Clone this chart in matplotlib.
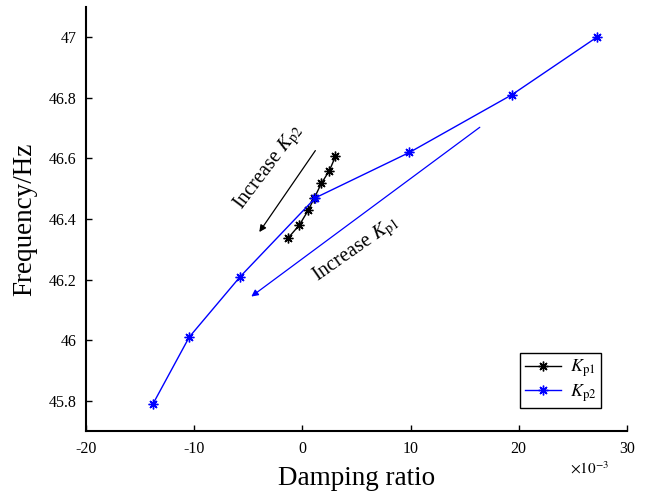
import matplotlib
matplotlib.use("Agg")
import matplotlib.pyplot as plt
import numpy as np

plt.rcParams["font.family"] = ["Liberation Serif", "DejaVu Serif"]
plt.rcParams["mathtext.fontset"] = "stix"
plt.rcParams["axes.unicode_minus"] = False

# damping ratio (x1e-3) and frequency (Hz)
kp1_damp = [-1.3, -0.28, 0.56, 1.11, 1.76, 2.5, 3.06]
kp1_freq = [46.338, 46.38, 46.43, 46.47, 46.518, 46.56, 46.607]
kp2_damp = [-13.8, -10.46, -5.74, 1.2, 9.9, 19.35, 27.2]
kp2_freq = [45.79, 46.01, 46.21, 46.47, 46.62, 46.81, 47.0]

xticks = [-20, -10, 0, 10, 20, 30]
yticks = [45.8, 46.0, 46.2, 46.4, 46.6, 46.8, 47.0]

STAR = (8, 2, 0)

fig = plt.figure(figsize=(6.49, 4.97), dpi=100)
ax = fig.add_axes([0.1325, 0.1328, 0.8335, 0.853])

ax.plot(kp1_damp, kp1_freq, color="black", lw=1, marker=STAR, ms=7,
        mew=1, label=r"$K_{\mathrm{p1}}$")
ax.plot(kp2_damp, kp2_freq, color="blue", lw=1, marker=STAR, ms=7,
        mew=1, label=r"$K_{\mathrm{p2}}$")

# arrows and their labels
ax.annotate("", xy=(-3.98, 46.357), xytext=(1.2, 46.626),
            arrowprops=dict(arrowstyle="-|>", color="black", lw=0.9,
                            mutation_scale=10, shrinkA=0, shrinkB=0))
ax.annotate("", xy=(-4.72, 46.144), xytext=(16.4, 46.703),
            arrowprops=dict(arrowstyle="-|>", color="blue", lw=0.9,
                            mutation_scale=10, shrinkA=0, shrinkB=0))
ax.text(-3.1, 46.57, r"Increase $K_{\mathrm{p2}}$", rotation=53,
        ha="center", va="center", fontsize=14.5)
ax.text(5.0, 46.3, r"Increase $K_{\mathrm{p1}}$", rotation=35,
        ha="center", va="center", fontsize=14.5)

ax.set_xlim(-20, 30)
ax.set_ylim(45.7, 47.1)
ax.set_xticks(xticks, [f"{t:g}" for t in xticks])
ax.set_yticks(yticks, [f"{t:g}" for t in yticks])
ax.tick_params(direction="in", length=4, width=1, labelsize=11.5, pad=7)
for sp in ("top", "right"):
    ax.spines[sp].set_visible(False)
for sp in ("left", "bottom"):
    ax.spines[sp].set_linewidth(1.5)

ax.set_xlabel("Damping ratio", fontsize=19.5, labelpad=7)
ax.set_ylabel("Frequency/Hz", fontsize=19.5, labelpad=8)
fig.text(0.909, 0.058, r"$\times\mathrm{10}^{\mathrm{-3}}$", fontsize=11,
         ha="center", va="center")

leg = ax.legend(loc="lower right", bbox_to_anchor=(0.952, 0.054), fontsize=13,
                fancybox=False, edgecolor="black", framealpha=1,
                borderaxespad=0, handlelength=2.0, handletextpad=0.5,
                borderpad=0.25, labelspacing=0.15)
leg.get_frame().set_linewidth(1)

fig.savefig("out.png", dpi=100)
